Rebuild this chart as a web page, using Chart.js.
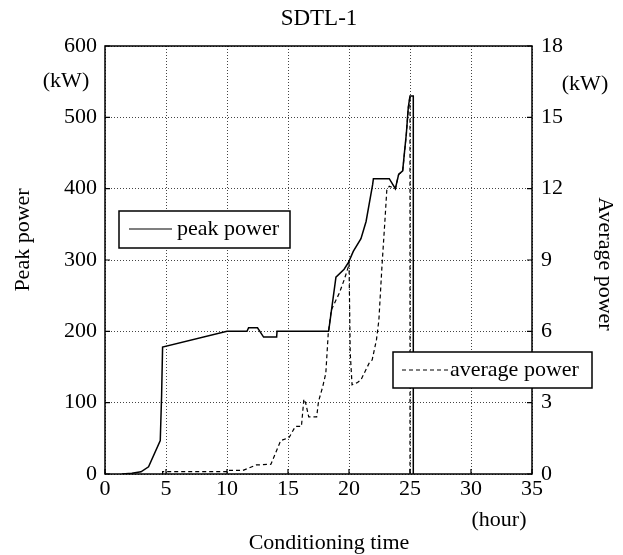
<!DOCTYPE html>
<html>
<head>
<meta charset="utf-8">
<title>SDTL-1</title>
<script src="https://cdn.jsdelivr.net/npm/chart.js@4"></script>
<style>
	body { margin: 0; background: #fff; }
	#wrap { width: 623px; height: 555px; }
</style>
</head>
<body>
<div id="wrap"><canvas id="chart" width="623" height="555"></canvas></div>
<script>
// peak power (kW, left axis) vs conditioning time (hour)
const peakTime = [1.4, 2.2, 2.95, 3.57, 4.53, 4.64, 4.72, 10.0, 11.64, 11.77, 12.5, 13.0, 14.07, 14.1, 18.33, 18.93, 19.6, 19.97, 20.35, 20.98, 21.4, 21.94, 22.0, 23.3, 23.8, 24.07, 24.4, 24.53, 24.7, 24.86, 25.0, 25.27, 25.27];
const peakPower = [0, 1, 3, 10, 47, 110, 178, 200, 200, 205, 205, 192, 192, 200, 200, 276, 287, 297, 312, 330, 354, 406, 414, 414, 400, 420, 425, 448, 477, 514, 530, 530, 0];

// average power (kW, right axis)
const avgTime = [4.72, 4.72, 10.0, 10.0, 11.3, 12.4, 13.6, 14.4, 15.1, 15.6, 16.1, 16.3, 16.45, 16.7, 17.35, 17.5, 17.85, 18.1, 18.3, 18.55, 19.2, 19.6, 19.95, 20.0, 20.1, 20.25, 20.7, 20.98, 21.65, 21.9, 22.25, 22.45, 22.7, 22.95, 23.1, 23.3, 23.8, 24.07, 24.4, 24.53, 24.7, 24.86, 25.0, 25.0];
const avgPower = [0, 0.1, 0.1, 0.15, 0.15, 0.38, 0.41, 1.4, 1.54, 2.0, 2.0, 3.15, 2.98, 2.4, 2.4, 3.05, 3.68, 4.24, 5.92, 6.9, 7.6, 8.16, 8.72, 9.0, 5.1, 3.75, 3.85, 3.96, 4.66, 4.8, 5.64, 6.48, 8.72, 10.7, 11.95, 12.1, 12.0, 12.6, 12.75, 13.4, 14.3, 15.4, 15.9, 0];

const xTicks = [0, 5, 10, 15, 20, 25, 30, 35];
const peakTicks = [0, 100, 200, 300, 400, 500, 600];
const avgTicks = [0, 3, 6, 9, 12, 15, 18];

const FONT = "'Liberation Serif', 'DejaVu Serif', serif";

function points(xs, ys) {
	return xs.map((x, i) => ({ x: x, y: ys[i] }));
}

// frame round the plot and the small inward ticks
const frame = {
	id: 'frame',
	beforeDatasetsDraw(chart) {
		const { ctx, chartArea: a, scales } = chart;
		ctx.save();
		ctx.strokeStyle = '#000';
		ctx.lineWidth = 1.5;
		ctx.strokeRect(a.left, a.top, a.right - a.left, a.bottom - a.top);
		ctx.lineWidth = 1.2;
		ctx.beginPath();
		peakTicks.forEach(v => {
			const y = scales.y.getPixelForValue(v);
			ctx.moveTo(a.left, y); ctx.lineTo(a.left + 5, y);
		});
		avgTicks.forEach(v => {
			const y = scales.y2.getPixelForValue(v);
			ctx.moveTo(a.right, y); ctx.lineTo(a.right - 5, y);
		});
		xTicks.forEach(v => {
			const x = scales.x.getPixelForValue(v);
			ctx.moveTo(x, a.bottom); ctx.lineTo(x, a.bottom - 5);
		});
		ctx.stroke();
		ctx.restore();
	}
};

// title, axis titles, units and the two legend boxes
const labels = {
	id: 'labels',
	afterDraw(chart) {
		const ctx = chart.ctx;
		ctx.save();
		ctx.fillStyle = '#000';
		ctx.strokeStyle = '#000';
		ctx.textBaseline = 'middle';
		ctx.textAlign = 'center';

		ctx.font = '23px ' + FONT;
		ctx.fillText('SDTL-1', 319, 19);

		ctx.font = '22px ' + FONT;
		ctx.fillText('(kW)', 66, 81);
		ctx.fillText('(kW)', 585, 84);
		ctx.fillText('(hour)', 499, 520);
		ctx.fillText('Conditioning time', 329, 543);

		ctx.save();
		ctx.translate(23, 240);
		ctx.rotate(-Math.PI / 2);
		ctx.fillText('Peak power', 0, 0);
		ctx.restore();

		ctx.save();
		ctx.translate(605, 264);
		ctx.rotate(Math.PI / 2);
		ctx.fillText('Average power', 0, 0);
		ctx.restore();

		// legend boxes
		ctx.textAlign = 'left';
		ctx.fillStyle = '#fff';
		ctx.fillRect(119, 211, 171, 37);
		ctx.fillRect(393, 352, 199, 36);
		ctx.fillStyle = '#000';
		ctx.lineWidth = 1.5;
		ctx.strokeRect(119, 211, 171, 37);
		ctx.strokeRect(393, 352, 199, 36);

		ctx.beginPath();
		ctx.lineWidth = 1.2;
		ctx.moveTo(129, 229); ctx.lineTo(172, 229);
		ctx.stroke();
		ctx.fillText('peak power', 177, 229);

		ctx.beginPath();
		ctx.setLineDash([4, 3]);
		ctx.moveTo(402, 370); ctx.lineTo(448, 370);
		ctx.stroke();
		ctx.setLineDash([]);
		ctx.fillText('average power', 450, 370);
		ctx.restore();
	}
};

new Chart(document.getElementById('chart'), {
	type: 'line',
	data: {
		datasets: [{
				label: 'average power',
				data: points(avgTime, avgPower),
				yAxisID: 'y2',
				borderColor: '#000',
				borderWidth: 1.2,
				borderDash: [4, 3],
				pointRadius: 0,
				tension: 0
			},
			{
				label: 'peak power',
				data: points(peakTime, peakPower),
				yAxisID: 'y',
				borderColor: '#000',
				borderWidth: 1.5,
				pointRadius: 0,
				tension: 0
			}
		]
	},
	options: {
		responsive: false,
		animation: false,
		layout: {
			padding: { top: 46, left: 0, right: 0, bottom: 0 }
		},
		plugins: {
			legend: { display: false },
			title: { display: false },
			tooltip: { enabled: false }
		},
		scales: {
			x: {
				type: 'linear',
				min: 0,
				max: 35,
				afterFit: s => { s.height = 81; },
				afterBuildTicks: s => { s.ticks = xTicks.map(v => ({ value: v })); },
				ticks: { color: '#000', font: { family: FONT, size: 22 }, padding: 2, maxRotation: 0 },
				grid: { color: '#444', lineWidth: 1, drawTicks: false },
				border: { display: false, dash: [1, 2] }
			},
			y: {
				position: 'left',
				min: 0,
				max: 600,
				afterFit: s => { s.width = 105; },
				afterBuildTicks: s => { s.ticks = peakTicks.map(v => ({ value: v })); },
				ticks: { color: '#000', font: { family: FONT, size: 22 }, padding: 8 },
				grid: { color: '#444', lineWidth: 1, drawTicks: false },
				border: { display: false, dash: [1, 2] }
			},
			y2: {
				position: 'right',
				min: 0,
				max: 18,
				afterFit: s => { s.width = 91; },
				afterBuildTicks: s => { s.ticks = avgTicks.map(v => ({ value: v })); },
				ticks: { color: '#000', font: { family: FONT, size: 22 }, padding: 9 },
				grid: { display: false, drawTicks: false },
				border: { display: false }
			}
		}
	},
	plugins: [frame, labels]
});
</script>
</body>
</html>
